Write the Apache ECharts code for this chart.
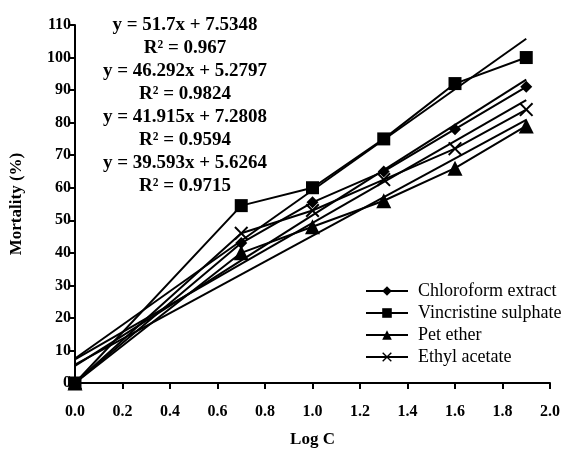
<!DOCTYPE html>
<html>
<head>
<meta charset="utf-8">
<script src="https://cdn.jsdelivr.net/npm/echarts@6/dist/echarts.min.js"></script>
<style>
  html, body { margin: 0; padding: 0; background: #fff; }
  #chart { width: 569px; height: 453px; }
</style>
</head>
<body>
<div id="chart"></div>
<script>
// log concentration (x) and mortality values
var logC = [0, 0.7, 1.0, 1.3, 1.6, 1.9];
var chloroform = [0, 43, 55.5, 65, 78, 91];
var vincristine = [0, 54.5, 60, 75, 92, 100];
var petEther = [0, 40, 48, 56, 66, 79];
var ethylAcetate = [0, 46, 53, 62.5, 72, 84];

var seriesNames = ['Chloroform extract', 'Vincristine sulphate', 'Pet ether', 'Ethyl acetate'];

// trend lines as printed on the chart (vincristine, chloroform, ethyl acetate, pet ether)
var slopes = [51.7, 46.292, 41.915, 39.593];
var intercepts = [7.5348, 5.2797, 7.2808, 5.6264];
var equationLabels = [
  'y = 51.7x + 7.5348', 'R\u00b2 = 0.967',
  'y = 46.292x + 5.2797', 'R\u00b2 = 0.9824',
  'y = 41.915x + 7.2808', 'R\u00b2 = 0.9594',
  'y = 39.593x + 5.6264', 'R\u00b2 = 0.9715'
];
var trendRange = [0, 1.9];

var xTicks = [0, 0.2, 0.4, 0.6, 0.8, 1.0, 1.2, 1.4, 1.6, 1.8, 2.0];

var serif = '"Liberation Serif", "DejaVu Serif", serif';

function pairs(ys) {
  return logC.map(function (x, i) { return [x, ys[i]]; });
}

var xSymbol = 'path://M0,1L1,0L5,4L9,0L10,1L6,5L10,9L9,10L5,6L1,10L0,9L4,5Z';

function dataSeries(name, ys, symbol, size) {
  return {
    name: name,
    type: 'line',
    data: pairs(ys),
    symbol: symbol,
    symbolSize: size,
    clip: false,
    z: 3,
    lineStyle: { color: '#000', width: 2 },
    itemStyle: { color: '#000' }
  };
}

var series = [
  dataSeries(seriesNames[0], chloroform, 'diamond', 12),
  dataSeries(seriesNames[1], vincristine, 'rect', 13),
  dataSeries(seriesNames[2], petEther, 'triangle', 15),
  dataSeries(seriesNames[3], ethylAcetate, xSymbol, 14)
];

slopes.forEach(function (m, i) {
  series.push({
    name: 'trend' + i,
    type: 'line',
    data: trendRange.map(function (x) { return [x, m * x + intercepts[i]]; }),
    symbol: 'none',
    clip: false,
    z: 2,
    lineStyle: { color: '#000', width: 2 }
  });
});

var graphics = equationLabels.map(function (t, i) {
  return {
    type: 'text',
    x: 185,
    y: 25 + i * 23,
    style: {
      text: t,
      font: 'bold 19px ' + serif,
      fill: '#000',
      align: 'center',
      verticalAlign: 'middle'
    }
  };
});

var chart = echarts.init(document.getElementById('chart'));
chart.setOption({
  animation: false,
  backgroundColor: '#fff',
  grid: { left: 74, right: 19, top: 25, bottom: 65 },
  legend: {
    data: seriesNames,
    orient: 'vertical',
    left: 360,
    top: 277,
    itemWidth: 42,
    itemHeight: 12,
    itemGap: 4,
    textStyle: { fontFamily: serif, fontSize: 18, color: '#000', padding: [0, 0, 0, 5] }
  },
  xAxis: {
    type: 'value',
    min: 0,
    max: 2,
    interval: 0.2,
    name: 'Log C',
    nameLocation: 'middle',
    nameGap: 48,
    nameTextStyle: { fontFamily: serif, fontWeight: 'bold', fontSize: 17, color: '#000' },
    axisLine: { lineStyle: { color: '#000', width: 2 } },
    axisTick: { show: true, length: 6, lineStyle: { color: '#000', width: 2 } },
    axisLabel: {
      margin: 21,
      fontFamily: serif,
      fontWeight: 'bold',
      fontSize: 16,
      color: '#000',
      formatter: function (v) {
        var t = xTicks.find(function (k) { return Math.abs(k - v) < 1e-6; });
        return t === undefined ? '' : t.toFixed(1);
      }
    },
    splitLine: { show: false }
  },
  yAxis: {
    type: 'value',
    min: 0,
    max: 110,
    interval: 10,
    name: 'Mortality (%)',
    nameLocation: 'middle',
    nameGap: 50,
    nameTextStyle: { fontFamily: serif, fontWeight: 'bold', fontSize: 17, color: '#000' },
    axisLine: { show: true, lineStyle: { color: '#000', width: 2 } },
    axisTick: { show: true, length: 6, lineStyle: { color: '#000', width: 2 } },
    axisLabel: { margin: 4, fontFamily: serif, fontWeight: 'bold', fontSize: 16, color: '#000' },
    splitLine: { show: false }
  },
  graphic: graphics,
  series: series
});
</script>
</body>
</html>
